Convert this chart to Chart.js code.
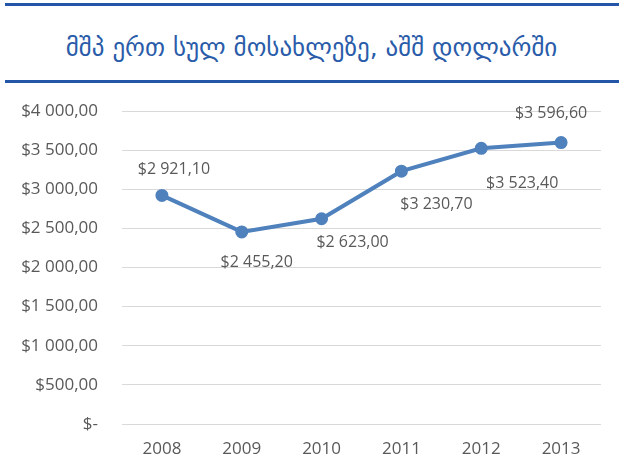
<!DOCTYPE html>
<html>
<head>
<meta charset="utf-8">
<script src="https://cdn.jsdelivr.net/npm/chart.js@4"></script>
<style>
  html, body { margin: 0; padding: 0; background: #fff; }
  #wrap { position: relative; width: 623px; height: 474px; overflow: hidden; }
  .rule { position: absolute; left: 5px; width: 614px; height: 3px; background: #2356a6; }
  #title { position: absolute; left: 0; width: 623px; top: 33px; text-align: center;
           font-family: "DejaVu Sans", sans-serif; font-size: 25px; color: #2a5caa; white-space: nowrap; }
  canvas { position: absolute; left: 0; top: 0; }
</style>
</head>
<body>
<div id="wrap">
  <div class="rule" style="top:3px"></div>
  <div id="title">მშპ ერთ სულ მოსახლეზე, აშშ დოლარში</div>
  <div class="rule" style="top:80px"></div>
  <canvas id="c" width="623" height="474"></canvas>
</div>
<script>
const years = ['2008', '2009', '2010', '2011', '2012', '2013'];
const gdpPerCapita = [2921.1, 2455.2, 2623.0, 3230.7, 3523.4, 3596.6];
const dataLabels = ['$2 921,10', '$2 455,20', '$2 623,00', '$3 230,70', '$3 523,40', '$3 596,60'];
const yTickValues = [0, 500, 1000, 1500, 2000, 2500, 3000, 3500, 4000];
const yTickLabels = ['$-', '$500,00', '$1 000,00', '$1 500,00', '$2 000,00', '$2 500,00', '$3 000,00', '$3 500,00', '$4 000,00'];

// label offsets relative to each point (style only)
const labelOffsets = [[12, -26], [15, 31], [31, 24], [35, 33], [41, 35], [-10, -29]];

const textColor = '#595959';
const fontFamily = '"Open Sans", "Segoe UI", sans-serif';

const pointLabels = {
  id: 'pointLabels',
  afterDatasetsDraw(chart) {
    const ctx = chart.ctx;
    const meta = chart.getDatasetMeta(0);
    ctx.save();
    ctx.font = '16px ' + fontFamily;
    ctx.fillStyle = textColor;
    ctx.textAlign = 'center';
    ctx.textBaseline = 'middle';
    meta.data.forEach((pt, i) => {
      const [dx, dy] = labelOffsets[i];
      ctx.fillText(dataLabels[i], pt.x + dx, pt.y + dy);
    });
    ctx.restore();
  }
};

new Chart(document.getElementById('c'), {
  type: 'line',
  data: {
    labels: years,
    datasets: [{
      data: gdpPerCapita,
      borderColor: '#4f81bd',
      backgroundColor: '#4f81bd',
      borderWidth: 4,
      pointRadius: 4.5,
      pointHoverRadius: 4.5,
      tension: 0,
      fill: false
    }]
  },
  options: {
    responsive: false,
    animation: false,
    events: [],
    layout: { padding: { top: 111, right: 22, left: 0, bottom: 0 } },
    plugins: { legend: { display: false }, tooltip: { enabled: false } },
    scales: {
      x: {
        offset: true,
        grid: { display: false, drawTicks: false, offset: true },
        border: { display: false },
        ticks: { color: textColor, font: { family: fontFamily, size: 17 }, padding: 15, maxRotation: 0 },
        afterFit(scale) { scale.height = 50; }
      },
      y: {
        min: 0, max: 4000,
        grid: { color: '#d9d9d9', lineWidth: 1, drawTicks: false },
        border: { display: false },
        afterBuildTicks(scale) { scale.ticks = yTickValues.map(v => ({ value: v })); },
        ticks: {
          color: textColor, font: { family: fontFamily, size: 17 }, padding: 24,
          callback(value) { const i = yTickValues.indexOf(value); return i >= 0 ? yTickLabels[i] : ''; }
        },
        afterFit(scale) { scale.width = 122; }
      }
    }
  },
  plugins: [pointLabels]
});
</script>
</body>
</html>
